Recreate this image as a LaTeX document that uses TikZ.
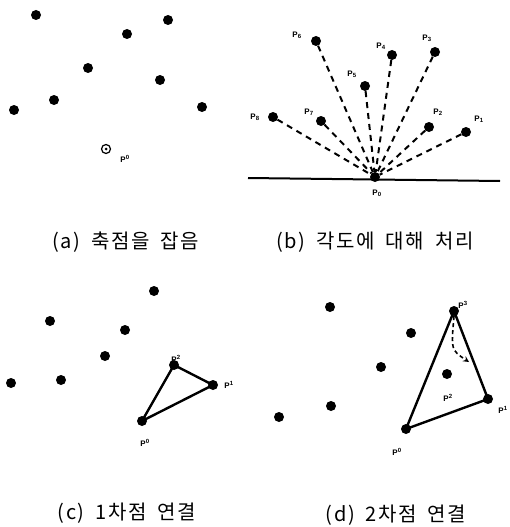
\documentclass[tikz,border=0pt]{standalone}
\usepackage{fontspec}
\setmainfont{Liberation Sans}
\newfontfamily\kr[LetterSpace=8]{Noto Sans CJK KR}
\newcommand{\gap}{\hspace{0.55em}}
\begin{document}
\begin{tikzpicture}[x=1pt, y=-1pt,
  dot/.style={circle, fill=black, inner sep=0pt, minimum size=10pt},
  plbl/.style={font=\bfseries\fontsize{8}{9}\selectfont, inner sep=0pt},
  ray/.style={dashed, line width=2pt, dash pattern=on 6pt off 5pt},
  edge/.style={line width=2.4pt, line join=round},
  caption/.style={font=\kr\fontsize{20}{24}\selectfont, inner sep=0pt}
]
\useasboundingbox (0,0) rectangle (510,527);

% (a) pick the pivot
\node[dot] (a1) at (36,15) {};
\node[dot] (a2) at (168,20) {};
\node[dot] (a3) at (127,34) {};
\node[dot] (a4) at (88,68) {};
\node[dot] (a5) at (160,80) {};
\node[dot] (a6) at (54,100) {};
\node[dot] (a7) at (14,110) {};
\node[dot] (a8) at (202,107) {};
\node[circle, draw, line width=1.2pt, minimum size=9pt, inner sep=0pt] (a0) at (106,149) {};
\node[circle, fill, minimum size=3pt, inner sep=0pt] (a0c) at (a0) {};
\node[plbl] (a0l) at (125,159) {P\textsuperscript{0}};
\node[caption] (capa) at (126,242) {(a)\gap 축점을\gap 잡음};

% (b) sort by angle
\coordinate (bl) at (248,178);
\coordinate (br) at (500,181);
\draw[line width=2pt] (bl) -- (br);
\node[dot] (b0) at (375,177) {};
\node[dot] (b1) at (466,132) {};
\node[dot] (b2) at (429,127) {};
\node[dot] (b3) at (435,52) {};
\node[dot] (b4) at (392,55) {};
\node[dot] (b5) at (365,86) {};
\node[dot] (b6) at (316,41) {};
\node[dot] (b7) at (321,121) {};
\node[dot] (b8) at (273,117) {};
\foreach \i in {1,...,8}
  \draw[ray] (b\i) -- (b0);
\node[plbl] (b0l) at (377,193) {P\textsubscript{0}};
\node[plbl] (b1l) at (479,119) {P\textsubscript{1}};
\node[plbl] (b2l) at (438,112) {P\textsubscript{2}};
\node[plbl] (b3l) at (427,38) {P\textsubscript{3}};
\node[plbl] (b4l) at (381,46) {P\textsubscript{4}};
\node[plbl] (b5l) at (352,74) {P\textsubscript{5}};
\node[plbl] (b6l) at (297,35) {P\textsubscript{6}};
\node[plbl] (b7l) at (309,112) {P\textsubscript{7}};
\node[plbl] (b8l) at (255,117) {P\textsubscript{8}};
\node[caption] (capb) at (375,242) {(b)\gap 각도에\gap 대해\gap 처리};

% (c) first point joined
\node[dot] (c3) at (154,291) {};
\node[dot] (c4) at (50,321) {};
\node[dot] (c5) at (125,330) {};
\node[dot] (c6) at (105,356) {};
\node[dot] (c7) at (11,383) {};
\node[dot] (c8) at (61,380) {};
\node[dot] (c2) at (174,365) {};
\node[dot] (c1) at (213,385) {};
\node[dot] (c0) at (142,421) {};
\draw[edge] (c0.center) -- (c2.center) -- (c1.center) -- cycle;
\node[plbl] (c2l) at (176,359) {P\textsuperscript{2}};
\node[plbl] (c1l) at (229,385) {P\textsuperscript{1}};
\node[plbl] (c0l) at (145,443) {P\textsuperscript{0}};
\node[caption] (capc) at (127,513) {(c)\gap 1차점\gap 연결};

% (d) second point joined
\node[dot] (d4) at (330,307) {};
\node[dot] (d5) at (411,333) {};
\node[dot] (d6) at (381,367) {};
\node[dot] (d7) at (331,406) {};
\node[dot] (d8) at (279,417) {};
\node[dot] (d2) at (447,374) {};
\node[dot] (d3) at (454,311) {};
\node[dot] (d1) at (488,399) {};
\node[dot] (d0) at (406,429) {};
\draw[edge] (d0.center) -- (d3.center) -- (d1.center) -- cycle;
\coordinate (dtip) at (469,362);
\draw[dashed, line width=1.6pt, dash pattern=on 4pt off 3pt, -stealth] (d3.south) .. controls (451,350) .. (dtip);
\node[plbl] (d3l) at (463,305) {P\textsuperscript{3}};
\node[plbl] (d2l) at (448,398) {P\textsuperscript{2}};
\node[plbl] (d1l) at (503,410) {P\textsuperscript{1}};
\node[plbl] (d0l) at (397,452) {P\textsuperscript{0}};
\node[caption] (capd) at (396,515) {(d)\gap 2차점\gap 연결};
\end{tikzpicture}
\end{document}
